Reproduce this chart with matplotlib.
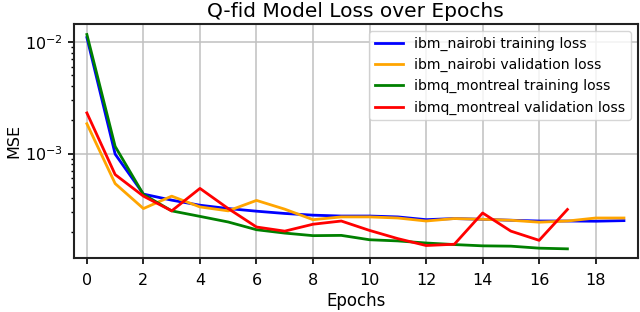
import numpy as np
import matplotlib
matplotlib.use("Agg")
import matplotlib.pyplot as plt

# epochs
epochs_nairobi = np.arange(20)
epochs_montreal = np.arange(18)

# losses (log scale)
nairobi_train = [1.09e-2, 9.9e-4, 4.35e-4, 3.84e-4, 3.46e-4, 3.23e-4, 3.06e-4, 2.92e-4,
                 2.82e-4, 2.77e-4, 2.77e-4, 2.72e-4, 2.57e-4, 2.63e-4, 2.59e-4, 2.54e-4,
                 2.50e-4, 2.50e-4, 2.49e-4, 2.52e-4]
nairobi_val = [1.85e-3, 5.4e-4, 3.23e-4, 4.17e-4, 3.34e-4, 3.08e-4, 3.82e-4, 3.19e-4,
               2.57e-4, 2.72e-4, 2.72e-4, 2.66e-4, 2.50e-4, 2.63e-4, 2.59e-4, 2.54e-4,
               2.44e-4, 2.50e-4, 2.66e-4, 2.66e-4]
montreal_train = [1.16e-2, 1.16e-3, 4.32e-4, 3.08e-4, 2.75e-4, 2.45e-4, 2.09e-4, 1.95e-4,
                  1.85e-4, 1.86e-4, 1.70e-4, 1.66e-4, 1.59e-4, 1.54e-4, 1.50e-4, 1.49e-4,
                  1.43e-4, 1.41e-4]
montreal_val = [2.31e-3, 6.5e-4, 4.17e-4, 3.08e-4, 4.89e-4, 3.23e-4, 2.21e-4, 2.03e-4,
                2.34e-4, 2.50e-4, 2.06e-4, 1.74e-4, 1.51e-4, 1.55e-4, 2.95e-4, 2.03e-4,
                1.68e-4, 3.17e-4]

fig = plt.figure(figsize=(6.4, 3.12), dpi=100)
ax = fig.add_axes([0.115, 0.172, 0.882, 0.75])

ax.plot(epochs_nairobi, nairobi_train, color='blue', lw=2, label='ibm_nairobi training loss')
ax.plot(epochs_nairobi, nairobi_val, color='orange', lw=2, label='ibm_nairobi validation loss')
ax.plot(epochs_montreal, montreal_train, color='green', lw=2, label='ibmq_montreal training loss')
ax.plot(epochs_montreal, montreal_val, color='red', lw=2, label='ibmq_montreal validation loss')

ax.set_yscale('log')
ax.set_ylim(1.16e-4, 1.43e-2)
ax.set_xlim(-0.47, 19.5)
ax.set_xticks(range(0, 20, 2))
ax.grid(True, linewidth=1.1, color='#c0c0c0')
ax.set_title('Q-fid Model Loss over Epochs', fontsize=14.5, pad=5)
ax.set_xlabel('Epochs', fontsize=12, labelpad=3)
ax.set_ylabel('MSE', fontsize=11.5, labelpad=3)
ax.tick_params(labelsize=11.5, length=4.5, width=1.2, pad=6)
ax.tick_params(axis='y', pad=3)
ax.tick_params(which='minor', length=2.5, width=1)
for s in ax.spines.values():
    s.set_linewidth(1.5)
    s.set_color('#222222')
ax.legend(loc='upper right', fontsize=10.1)

plt.savefig('out.png', dpi=100)
